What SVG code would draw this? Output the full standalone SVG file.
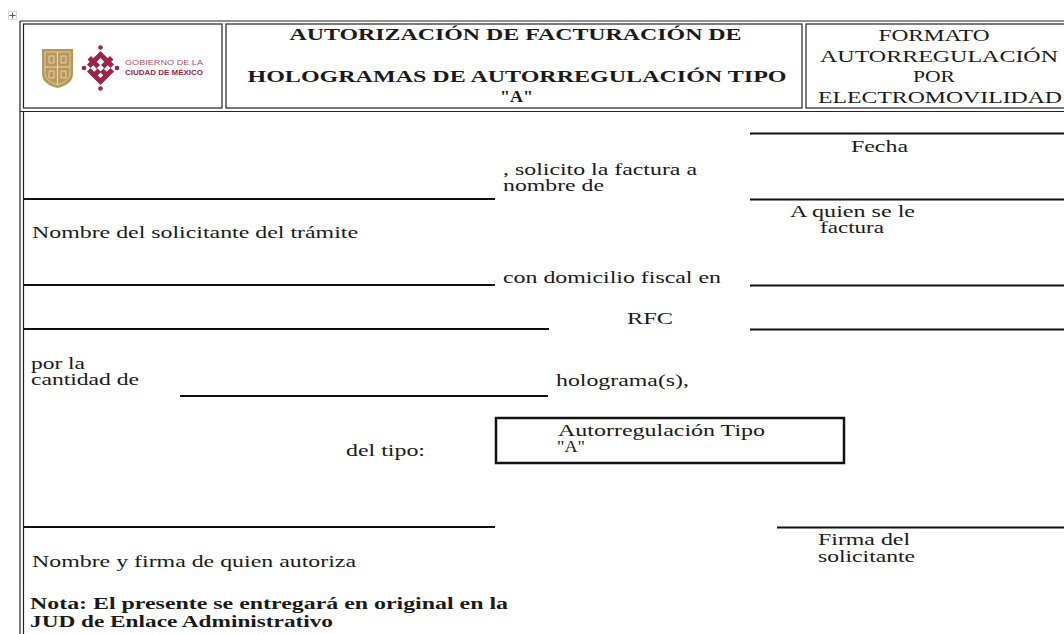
<svg xmlns="http://www.w3.org/2000/svg" width="1064" height="634" viewBox="0 0 1064 634">
<defs>
<style>
.t{font-family:"Liberation Serif","Tinos","Times New Roman",serif;font-size:16px;fill:#1a1a1a}
.b{font-weight:bold}
.m{text-anchor:middle}
.fr{fill:none;stroke:#222;stroke-width:1.2}
.ul{stroke:#111;stroke-width:2;fill:none}
.lg{font-family:"Liberation Sans",Arial,sans-serif;font-size:7px;fill:#9d2449}
</style>
</defs>
<rect width="1064" height="634" fill="#fff"/>

<g id="handle">
<rect x="8.5" y="11.5" width="8" height="8" fill="none" stroke="#999" stroke-width="0.8" stroke-dasharray="1,1"/>
<path d="M12.5,12.5v6M9.5,15.5h6" stroke="#555" stroke-width="1"/>
</g>

<g id="frame">
<line class="fr" x1="20" y1="21" x2="1064" y2="21"/>
<line class="fr" x1="20" y1="111.5" x2="1064" y2="111.5"/>
<line class="fr" x1="20" y1="21" x2="20" y2="634"/>
<line class="fr" x1="23.5" y1="111.5" x2="23.5" y2="634"/>
</g>

<g id="logo-cell">
<rect class="fr" x="23.5" y="24" width="198.5" height="84"/>
<g id="crest">
<path d="M42,49 L73,49 L73,74 Q73,84 57.5,88 Q42,84 42,74 Z" fill="#b9975b"/>
<path d="M45,52 L70,52 L70,73 Q70,81 57.5,85 Q45,81 45,73 Z" fill="none" stroke="#e6d6b4" stroke-width="0.8"/>
<path d="M57.5,52 V85 M45,67 H70" stroke="#e6d6b4" stroke-width="1.2"/>
<path d="M49,56 h5 v7 h-5z M61,56 h5 v7 h-5z M49,71 h5 v7 h-5z M61,71 h5 v7 h-5z" fill="none" stroke="#f0e4c8" stroke-width="0.8"/>
</g>
<g id="knot" fill="#9d2449">
<circle cx="100.5" cy="47.5" r="2.3"/>
<circle cx="100.5" cy="88.5" r="2.3"/>
<circle cx="84" cy="68" r="2.3"/>
<circle cx="117" cy="68" r="2.3"/>
<path d="M100.5,51 L114,64.5 L110.5,68 L100.5,58 L90.5,68 L87,64.5 Z"/>
<path d="M100.5,85 L114,71.5 L110.5,68 L100.5,78 L90.5,68 L87,71.5 Z"/>
<path d="M91,56 L110,75 L106.5,78.5 L87.5,59.5 Z"/>
<path d="M110,56 L91,75 L94.5,78.5 L113.5,59.5 Z"/>
<rect x="98" y="65.5" width="5" height="5" transform="rotate(45 100.5 68)" fill="#fff"/>
</g>
<text class="lg" x="125" y="65" fill-opacity="0.85" textLength="78" lengthAdjust="spacingAndGlyphs">GOBIERNO DE LA</text>
<text class="lg" x="125" y="74.5" font-weight="bold" textLength="78" lengthAdjust="spacingAndGlyphs">CIUDAD DE MÉXICO</text>
</g>

<g id="title-cell">
<rect class="fr" x="226" y="24" width="576" height="84"/>
<text class="t b m" x="515.5" y="40" textLength="452" lengthAdjust="spacingAndGlyphs">AUTORIZACIÓN DE FACTURACIÓN DE</text>
<text class="t b m" x="517" y="82" textLength="539" lengthAdjust="spacingAndGlyphs">HOLOGRAMAS DE AUTORREGULACIÓN TIPO</text>
<text class="t b m" x="516.5" y="102" textLength="33" lengthAdjust="spacingAndGlyphs">"A"</text>
</g>

<g id="format-cell">
<rect class="fr" x="806" y="24" width="270" height="84"/>
<text class="t m" x="934" y="41" textLength="111" lengthAdjust="spacingAndGlyphs">FORMATO</text>
<text class="t m" x="939" y="61.5" textLength="238" lengthAdjust="spacingAndGlyphs">AUTORREGULACIÓN</text>
<text class="t m" x="934" y="82" textLength="42" lengthAdjust="spacingAndGlyphs">POR</text>
<text class="t m" x="940" y="102.5" textLength="244" lengthAdjust="spacingAndGlyphs">ELECTROMOVILIDAD</text>
</g>

<g id="lines">
<line class="ul" x1="23.5" y1="199" x2="495" y2="199"/>
<line class="ul" x1="23.5" y1="285" x2="495" y2="285"/>
<line class="ul" x1="23.5" y1="329" x2="549" y2="329"/>
<line class="ul" x1="750" y1="133.5" x2="1064" y2="133.5"/>
<line class="ul" x1="750" y1="199.5" x2="1064" y2="199.5"/>
<line class="ul" x1="750" y1="285.5" x2="1064" y2="285.5"/>
<line class="ul" x1="750" y1="329.5" x2="1064" y2="329.5"/>
<line class="ul" x1="180" y1="396" x2="548" y2="396"/>
<line class="ul" x1="23.5" y1="527" x2="495" y2="527"/>
<line class="ul" x1="777" y1="527.5" x2="1064" y2="527.5"/>
</g>

<g id="type-box">
<rect x="496" y="418" width="348" height="45" fill="none" stroke="#111" stroke-width="2.5"/>
<text class="t" x="558" y="436" textLength="207" lengthAdjust="spacingAndGlyphs">Autorregulación Tipo</text>
<text class="t" x="557" y="452" textLength="28" lengthAdjust="spacingAndGlyphs">"A"</text>
</g>

<g id="labels">
<text class="t" x="851" y="152" textLength="57" lengthAdjust="spacingAndGlyphs">Fecha</text>
<text class="t" x="503" y="175" textLength="194" lengthAdjust="spacingAndGlyphs">, solicito la factura a</text>
<text class="t" x="503" y="191" textLength="101" lengthAdjust="spacingAndGlyphs">nombre de</text>
<text class="t" x="790" y="217" textLength="125" lengthAdjust="spacingAndGlyphs">A quien se le</text>
<text class="t" x="820" y="233" textLength="64" lengthAdjust="spacingAndGlyphs">factura</text>
<text class="t" x="32" y="238" textLength="326" lengthAdjust="spacingAndGlyphs">Nombre del solicitante del trámite</text>
<text class="t" x="503" y="283" textLength="218" lengthAdjust="spacingAndGlyphs">con domicilio fiscal en</text>
<text class="t" x="627" y="324" textLength="46" lengthAdjust="spacingAndGlyphs">RFC</text>
<text class="t" x="31" y="369" textLength="54" lengthAdjust="spacingAndGlyphs">por la</text>
<text class="t" x="31" y="385" textLength="108" lengthAdjust="spacingAndGlyphs">cantidad de</text>
<text class="t" x="556" y="386" textLength="133" lengthAdjust="spacingAndGlyphs">holograma(s),</text>
<text class="t" x="346" y="456" textLength="79" lengthAdjust="spacingAndGlyphs">del tipo:</text>
<text class="t" x="818" y="545" textLength="92" lengthAdjust="spacingAndGlyphs">Firma del</text>
<text class="t" x="818" y="562" textLength="97" lengthAdjust="spacingAndGlyphs">solicitante</text>
<text class="t" x="32" y="567" textLength="324" lengthAdjust="spacingAndGlyphs">Nombre y firma de quien autoriza</text>
<text class="t b" x="30" y="609" textLength="478" lengthAdjust="spacingAndGlyphs">Nota: El presente se entregará en original en la</text>
<text class="t b" x="30" y="627" textLength="303" lengthAdjust="spacingAndGlyphs">JUD de Enlace Administrativo</text>
</g>
</svg>
